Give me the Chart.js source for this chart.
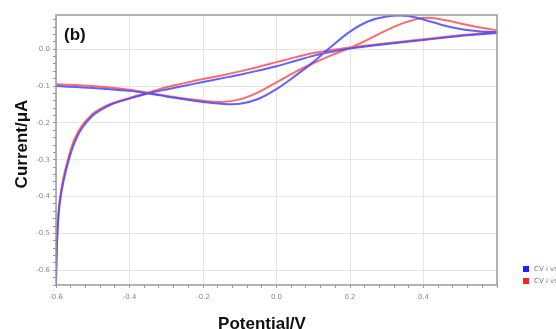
<!DOCTYPE html>
<html>
<head>
<meta charset="utf-8">
<script src="https://cdn.jsdelivr.net/npm/chart.js@4.4.0/dist/chart.umd.min.js"></script>
<style>
  html, body { margin: 0; padding: 0; background: #fff; }
  #wrap { width: 556px; height: 329px; }
</style>
</head>
<body>
<div id="wrap"><canvas id="cv"></canvas></div>
<script>
// potential (V) and current (uA), forward sweep then return sweep
var blueX = [-0.6, -0.5, -0.4, -0.35, -0.3, -0.25, -0.2, -0.15, -0.1, -0.05, 0.0, 0.05, 0.1, 0.15, 0.2, 0.25, 0.3, 0.35, 0.4, 0.45, 0.5, 0.55, 0.6,
             0.5, 0.4, 0.3, 0.2, 0.15, 0.1, 0.05, 0.0, -0.05, -0.1, -0.15, -0.2, -0.25, -0.3, -0.35, -0.4, -0.45, -0.48, -0.5, -0.53, -0.55, -0.565, -0.58, -0.59, -0.595, -0.598, -0.6];
var blueY = [-0.100, -0.105, -0.113, -0.120, -0.128, -0.136, -0.143, -0.148, -0.148, -0.135, -0.108, -0.073, -0.035, 0.008, 0.048, 0.076, 0.089, 0.091, 0.081, 0.066, 0.055, 0.049, 0.045,
             0.036, 0.025, 0.014, 0.002, -0.007, -0.018, -0.032, -0.046, -0.058, -0.069, -0.079, -0.089, -0.099, -0.109, -0.120, -0.134, -0.150, -0.166, -0.180, -0.215, -0.255, -0.300, -0.360, -0.420, -0.480, -0.550, -0.640];
var redX = [-0.6, -0.5, -0.4, -0.35, -0.3, -0.25, -0.2, -0.15, -0.1, -0.05, 0.0, 0.05, 0.1, 0.15, 0.2, 0.25, 0.3, 0.35, 0.4, 0.45, 0.5, 0.55, 0.6,
            0.5, 0.4, 0.3, 0.2, 0.15, 0.1, 0.05, 0.0, -0.05, -0.1, -0.15, -0.2, -0.25, -0.3, -0.35, -0.4, -0.45, -0.48, -0.5, -0.53, -0.55, -0.565, -0.58, -0.59, -0.595, -0.598, -0.6];
var redY = [-0.095, -0.100, -0.110, -0.118, -0.126, -0.134, -0.140, -0.143, -0.136, -0.117, -0.090, -0.062, -0.038, -0.016, 0.004, 0.027, 0.052, 0.073, 0.085, 0.081, 0.070, 0.060, 0.050,
            0.038, 0.027, 0.016, 0.005, -0.002, -0.010, -0.022, -0.035, -0.048, -0.060, -0.071, -0.081, -0.092, -0.103, -0.118, -0.132, -0.148, -0.162, -0.175, -0.208, -0.245, -0.290, -0.350, -0.410, -0.470, -0.540, -0.620];
var seriesNames = ['CV i vs E', 'CV i vs E'];
var xTickLabels = ['-0.6', '-0.4', '-0.2', '0.0', '0.2', '0.4'];
var yTickLabels = ['-0.6', '-0.5', '-0.4', '-0.3', '-0.2', '-0.1', '0.0'];

function pts(xs, ys) {
  return xs.map(function (x, i) { return { x: x, y: ys[i] }; });
}

var extras = {
  id: 'extras',
  afterDraw: function (chart) {
    var c = chart.ctx, a = chart.chartArea;
    c.save();
    c.strokeStyle = '#9a9a9a';
    c.lineWidth = 1.5;
    c.strokeRect(a.left, a.top, a.right - a.left, a.bottom - a.top);
    c.fillStyle = '#111';
    c.font = 'bold 17px "Liberation Sans", Arial, sans-serif';
    c.textBaseline = 'middle';
    c.fillText('(b)', 64, 35);
    c.font = 'bold 17px "Liberation Sans", Arial, sans-serif';
    c.textAlign = 'center';
    c.fillText('Potential/V', 262, 324);
    c.translate(22, 144);
    c.rotate(-Math.PI / 2);
    c.fillText('Current/\u03bcA', 0, 0);
    c.restore();
    // legend
    c.save();
    var cols = ['#2020ff', '#ff2020'];
    c.font = '7px "DejaVu Sans", sans-serif';
    c.textBaseline = 'middle';
    for (var i = 0; i < 2; i++) {
      var y = 269 + i * 12;
      c.fillStyle = cols[i];
      c.fillRect(523, y - 3, 6, 6);
      c.fillStyle = '#777';
      c.fillText(seriesNames[i], 534, y);
    }
    c.restore();
  }
};

function isMajor(v, step) {
  var r = Math.round(v * 1000) / 1000;
  var k = Math.round(r / step);
  return Math.abs(r - k * step) < 1e-6;
}

new Chart(document.getElementById('cv').getContext('2d'), {
  type: 'scatter',
  data: {
    datasets: [{
      label: seriesNames[0],
      data: pts(blueX, blueY),
      showLine: true,
      borderColor: 'rgba(70, 70, 255, 0.85)',
      borderWidth: 2,
      pointRadius: 0,
      tension: 0.35,
      fill: false
    }, {
      label: seriesNames[1],
      data: pts(redX, redY),
      showLine: true,
      borderColor: 'rgba(255, 70, 70, 0.8)',
      borderWidth: 2,
      pointRadius: 0,
      tension: 0.35,
      fill: false
    }]
  },
  options: {
    responsive: true,
    maintainAspectRatio: false,
    animation: false,
    layout: { padding: { left: 0, right: 59, top: 15, bottom: 0 } },
    plugins: { legend: { display: false }, tooltip: { enabled: false } },
    scales: {
      x: {
        type: 'linear',
        min: -0.6,
        max: 0.6,
        afterBuildTicks: function (s) {
          var t = [];
          for (var i = 0; i <= 30; i++) t.push({ value: -0.6 + i * 0.04 });
          s.ticks = t;
        },
        afterFit: function (s) { s.height = 44; },
        border: { display: false },
        grid: {
          color: function (ctx) { return ctx.tick && isMajor(ctx.tick.value, 0.2) ? '#e6e6e6' : 'rgba(0,0,0,0)'; },
          tickColor: '#999',
          tickLength: 3
        },
        ticks: {
          autoSkip: false,
          maxRotation: 0,
          padding: 5,
          color: '#8a8a8a',
          font: { size: 7, family: 'DejaVu Sans' },
          callback: function (v) {
            if (!isMajor(v, 0.2)) return '';
            var k = Math.round(v / 0.2) + 3;
            return xTickLabels[k] || '';
          }
        }
      },
      y: {
        type: 'linear',
        min: -0.64,
        max: 0.093,
        afterBuildTicks: function (s) {
          var t = [];
          for (var i = 0; i <= 36; i++) t.push({ value: -0.64 + i * 0.02 });
          s.ticks = t;
        },
        afterFit: function (s) { s.width = 56; },
        border: { display: false },
        grid: {
          color: function (ctx) { return ctx.tick && isMajor(ctx.tick.value, 0.1) ? '#e6e6e6' : 'rgba(0,0,0,0)'; },
          tickColor: '#999',
          tickLength: 3
        },
        ticks: {
          autoSkip: false,
          padding: 3,
          color: '#8a8a8a',
          font: { size: 7, family: 'DejaVu Sans' },
          callback: function (v) {
            if (!isMajor(v, 0.1)) return '';
            var k = Math.round(v / 0.1) + 6;
            return yTickLabels[k] || '';
          }
        }
      }
    }
  },
  plugins: [extras]
});
</script>
</body>
</html>
